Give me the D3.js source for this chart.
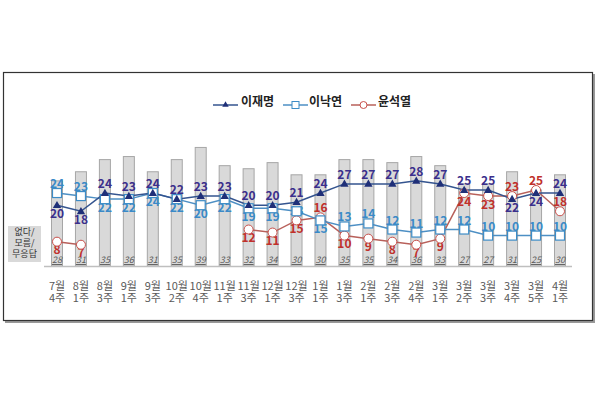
<!DOCTYPE html>
<html><head><meta charset="utf-8">
<script src="https://cdn.jsdelivr.net/npm/d3@7"></script>
<style>
body{margin:0;background:#fff;}
svg{display:block;font-family:"Noto Sans CJK KR","Noto Sans",sans-serif;}
</style></head>
<body><svg id="c" width="600" height="408"></svg>
<script>
const months = ["7월","8월","8월","9월","9월","10월","10월","11월","11월","12월","12월","1월","1월","2월","2월","2월","3월","3월","3월","3월","3월","4월"];
const weeks  = ["4주","1주","3주","1주","3주","2주","4주","1주","3주","1주","3주","1주","3주","1주","3주","4주","1주","2주","3주","4주","5주","1주"];
const categories = months.map((m,i)=>m+weeks[i]);
const noneValues = [28,31,35,36,31,35,39,33,32,34,30,30,35,35,34,36,33,27,27,31,25,30];
const leeJM = [20,18,24,23,24,22,23,23,20,20,21,24,27,27,27,28,27,25,25,22,24,24];
const leeNY = [24,23,22,22,24,22,20,22,19,19,18,15,13,14,12,11,12,12,10,10,10,10];
const yoon  = [8,7,null,null,null,null,null,null,12,11,15,16,10,9,8,7,9,24,23,23,25,18];
// label placement: 1 above, -1 below, 0 centred
const posJM = [-1,-1,1,1,1,1,1,1,1,1,1,1,1,1,1,1,1,1,1,-1,-1,1];
const posNY = [1,1,-1,-1,-1,-1,-1,-1,-1,-1,0,-1,1,1,1,1,1,1,1,1,1,1];
const posYS = [-1,-1,0,0,0,0,0,0,-1,-1,-1,1,-1,-1,-1,-1,-1,-1,-1,1,1,1];
const seriesNames = ["이재명","이낙연","윤석열"];
const boxLines = ["없다/","모름/","무응답"];

const svg = d3.select("#c");
const x = d3.scalePoint().domain(categories).range([57,560]);
const y = d3.scaleLinear().domain([0,40]).range([266,144.4]);

// frame
svg.append("rect").attr("x",5).attr("y",74).attr("width",590).attr("height",249).attr("fill","#999");
svg.append("rect").attr("x",3.5).attr("y",72.5).attr("width",589).attr("height",248).attr("fill","#fff").attr("stroke","#333").attr("stroke-width",1.2);

// bars
svg.append("g").selectAll("rect").data(noneValues).join("rect")
  .attr("x",(d,i)=>x(categories[i])-5.5).attr("width",11)
  .attr("y",d=>y(d)).attr("height",d=>y(0)-y(d))
  .attr("fill","#d9d9d9").attr("stroke","#a6a6a6").attr("stroke-width",1);
svg.append("g").selectAll("text").data(noneValues).join("text")
  .attr("x",(d,i)=>x(categories[i])).attr("y",263).attr("text-anchor","middle")
  .attr("font-size",9).attr("font-style","italic").attr("text-decoration","underline")
  .attr("fill","#595959").text(d=>d);

// axis line
svg.append("line").attr("x1",44).attr("x2",572).attr("y1",266.5).attr("y2",266.5).attr("stroke","#bfbfbf").attr("stroke-width",1.5);

// x labels
const xl = svg.append("g").selectAll("text").data(categories).join("text")
  .attr("text-anchor","middle").attr("font-size",11).attr("fill","#595959");
xl.append("tspan").attr("x",d=>x(d)).attr("y",290).text((d,i)=>months[i]);
xl.append("tspan").attr("x",d=>x(d)).attr("y",302).text((d,i)=>weeks[i]);

// left box
svg.append("rect").attr("x",8).attr("y",226).attr("width",33).attr("height",36).attr("fill","#d9d9d9");
svg.append("g").selectAll("text").data(boxLines).join("text")
  .attr("x",24.5).attr("y",(d,i)=>235+i*11).attr("text-anchor","middle").attr("font-size",9).attr("fill","#333").text(d=>d);

const series = [
  {name:seriesNames[0],vals:leeJM,pos:posJM,line:"#34548f",mark:"tri",mfill:"#1f2f78",mstroke:"#1f2f78",lab:"#3b2f8c"},
  {name:seriesNames[1],vals:leeNY,pos:posNY,line:"#4d8fc4",mark:"sq",mfill:"#fff",mstroke:"#3d8cc6",lab:"#3a8ac8"},
  {name:seriesNames[2],vals:yoon,pos:posYS,line:"#b8605a",mark:"circ",mfill:"#fff",mstroke:"#c8504b",lab:"#c0302b"}
];
const line = d3.line().defined(d=>d[1]!=null).x(d=>x(d[0])).y(d=>y(d[1]));
function drawMarker(g,type,cx,cy,s){
  if(type==="tri") g.append("path").attr("d",d3.symbol(d3.symbolTriangle,30)()).attr("transform",`translate(${cx},${cy+0.5})`).attr("fill",s.mfill);
  else if(type==="sq") g.append("rect").attr("x",cx-4.5).attr("y",cy-4.5).attr("width",9).attr("height",9).attr("fill",s.mfill).attr("stroke",s.mstroke).attr("stroke-width",1.2);
  else g.append("circle").attr("cx",cx).attr("cy",cy).attr("r",4.5).attr("fill",s.mfill).attr("stroke",s.mstroke).attr("stroke-width",1);
}
const order=[2,1,0];
order.forEach(k=>{
  const s=series[k];
  svg.append("path").datum(categories.map((c,i)=>[c,s.vals[i]])).attr("d",line).attr("fill","none").attr("stroke",s.line).attr("stroke-width",1.5);
});
order.forEach(k=>{
  const s=series[k];
  s.vals.forEach((v,i)=>{
    if(v==null) return;
    const p=s.pos[i];
    const ty = p===1? y(v)-5 : p===-1? y(v)+12.5 : y(v)+4;
    svg.append("text").attr("x",x(categories[i])).attr("y",ty).attr("text-anchor","middle")
      .attr("font-size",12).attr("font-weight",600).attr("fill",s.lab).text(v);
  });
});
order.forEach(k=>{
  const s=series[k];
  const g=svg.append("g");
  s.vals.forEach((v,i)=>{ if(v!=null) drawMarker(g,s.mark,x(categories[i]),y(v),s); });
});

// legend
const leg=[{x0:213,tx:241},{x0:283,tx:309},{x0:351,tx:378}];
series.forEach((s,k)=>{
  const g=svg.append("g");
  g.append("line").attr("x1",leg[k].x0).attr("x2",leg[k].x0+25).attr("y1",105).attr("y2",105).attr("stroke",s.line).attr("stroke-width",1.5);
  if(s.mark==="tri") g.append("path").attr("d",d3.symbol(d3.symbolTriangle,18)()).attr("transform",`translate(${leg[k].x0+12.5},105)`).attr("fill",s.mfill);
  else if(s.mark==="sq") g.append("rect").attr("x",leg[k].x0+9).attr("y",101.5).attr("width",7).attr("height",7).attr("fill","#fff").attr("stroke",s.mstroke);
  else g.append("circle").attr("cx",leg[k].x0+12.5).attr("cy",105).attr("r",3.5).attr("fill","#fff").attr("stroke",s.mstroke);
  g.append("text").attr("x",leg[k].tx).attr("y",106).attr("font-size",12).attr("font-weight",600).attr("fill","#222").text(s.name);
});
</script></body></html>
